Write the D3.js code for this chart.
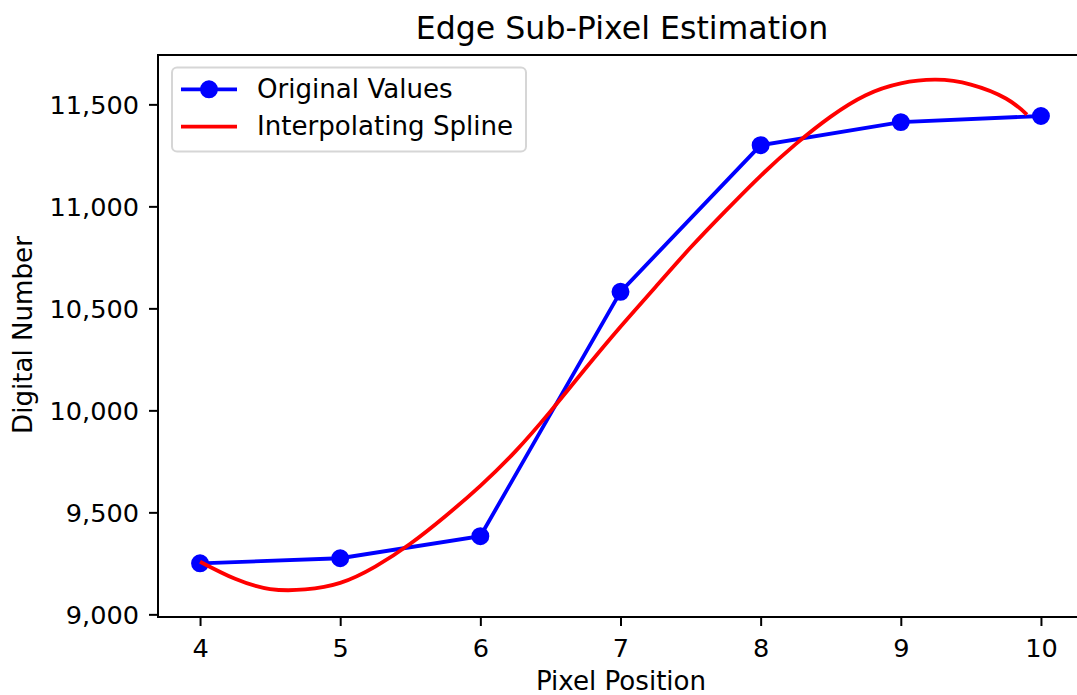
<!DOCTYPE html>
<html lang="en">
<head>
  <meta charset="UTF-8">
  <title>Edge Sub-Pixel Estimation</title>
  <style>
    body { margin: 0; background: #fff; }
    svg text { font-family: "DejaVu Sans", sans-serif; fill: #000; }
  </style>
</head>
<body>
  <svg class="chart" width="1077" height="695"></svg>
  <script src="https://cdn.jsdelivr.net/npm/d3@7"></script>
  <script>
    // pixel positions and the measured digital numbers
    const pixelPos = [4, 5, 6, 7, 8, 9, 10]
    const originalValues = [9250, 9275, 9383, 10581, 11300, 11413, 11443]

    // spline
    const splineX = [4.0, 4.25, 4.5, 4.75, 5.0, 5.25, 5.5, 5.75, 6.0, 6.25, 6.5, 6.75, 7.0,
      7.25, 7.5, 7.75, 8.0, 8.25, 8.5, 8.75, 9.0, 9.25, 9.5, 9.75, 9.9]
    const splineY = [9258, 9174, 9124, 9122, 9154, 9234, 9346, 9481, 9630, 9799, 9995, 10205, 10410,
      10605, 10798, 10978, 11150, 11305, 11440, 11545, 11603, 11621, 11597, 11529, 11450]

    const xTicks = [4, 5, 6, 7, 8, 9, 10]
    const yTicks = [9000, 9500, 10000, 10500, 11000, 11500]

    const plotL = 158, plotR = 1083, plotT = 55, plotB = 617
    const fs = 25.6, lfs = 26.1

    const svg = d3.select('.chart')

    const x = d3.scaleLinear().domain([3.7, 10.3]).range([plotL, plotR])
    const y = d3.scaleLinear().domain([8987, 11742]).range([plotB, plotT])

    // axes
    const xAxis = d3.axisBottom(x).tickValues(xTicks).tickFormat(d3.format('d')).tickSize(9).tickPadding(8)
    const yAxis = d3.axisLeft(y).tickValues(yTicks).tickFormat(d3.format(',')).tickSize(9).tickPadding(10)

    const gx = svg.append('g').attr('transform', `translate(0,${plotB})`).call(xAxis)
    const gy = svg.append('g').attr('transform', `translate(${plotL},0)`).call(yAxis)
    ;[gx, gy].forEach(g => {
      g.select('.domain').remove()
      g.selectAll('line').attr('stroke', '#000').attr('stroke-width', 2)
      g.selectAll('text').attr('font-size', fs).attr('font-family', '"DejaVu Sans", sans-serif').attr('fill', '#000')
    })
    gx.selectAll('text').attr('dy', null).attr('y', 40)
    gy.selectAll('text').attr('dy', '0.37em')

    // frame
    svg.append('rect')
      .attr('x', plotL).attr('y', plotT)
      .attr('width', plotR - plotL).attr('height', plotB - plotT)
      .attr('fill', 'none').attr('stroke', '#000').attr('stroke-width', 2)

    // original values
    const pts = pixelPos.map((p, i) => [p, originalValues[i]])
    svg.append('path')
      .datum(pts)
      .attr('fill', 'none').attr('stroke', '#0000ff').attr('stroke-width', 3.84)
      .attr('d', d3.line().x(d => x(d[0])).y(d => y(d[1])))
    svg.selectAll('circle.pt').data(pts).enter().append('circle')
      .attr('class', 'pt')
      .attr('cx', d => x(d[0])).attr('cy', d => y(d[1]))
      .attr('r', 7.7).attr('fill', '#0000ff').attr('stroke', '#0000ff').attr('stroke-width', 2.56)

    // spline
    const spl = splineX.map((p, i) => [p, splineY[i]])
    svg.append('path')
      .datum(spl)
      .attr('fill', 'none').attr('stroke', '#ff0000').attr('stroke-width', 3.84)
      .attr('d', d3.line().curve(d3.curveNatural).x(d => x(d[0])).y(d => y(d[1])))

    // legend
    const lg = svg.append('g')
    lg.append('rect')
      .attr('x', 172).attr('y', 67.5).attr('width', 354).attr('height', 84)
      .attr('rx', 5).attr('fill', '#fff').attr('fill-opacity', 0.8)
      .attr('stroke', '#d6d6d6').attr('stroke-width', 2)
    const rows = [
      { label: 'Original Values', color: '#0000ff', marker: true, cy: 89.3 },
      { label: 'Interpolating Spline', color: '#ff0000', marker: false, cy: 126.7 }
    ]
    rows.forEach(r => {
      lg.append('line').attr('x1', 181).attr('x2', 237).attr('y1', r.cy).attr('y2', r.cy)
        .attr('stroke', r.color).attr('stroke-width', 3.84)
      if (r.marker) {
        lg.append('circle').attr('cx', 209).attr('cy', r.cy).attr('r', 7.7)
          .attr('fill', r.color).attr('stroke', r.color).attr('stroke-width', 2.56)
      }
      lg.append('text').attr('x', 257).attr('y', r.cy + 8.5).attr('font-size', lfs).text(r.label)
    })

    // titles
    svg.append('text').attr('x', 622).attr('y', 38.5).attr('text-anchor', 'middle')
      .attr('font-size', 31.6).text('Edge Sub-Pixel Estimation')
    svg.append('text').attr('x', 621).attr('y', 690).attr('text-anchor', 'middle')
      .attr('font-size', lfs).text('Pixel Position')
    svg.append('text').attr('transform', 'translate(31.5,335) rotate(-90)').attr('text-anchor', 'middle')
      .attr('font-size', lfs).text('Digital Number')
  </script>
</body>
</html>
